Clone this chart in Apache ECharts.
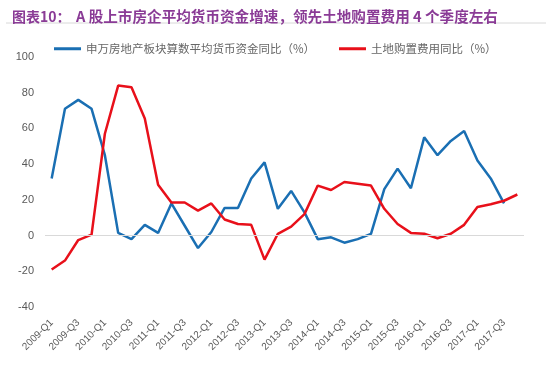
<!DOCTYPE html>
<html><head><meta charset="utf-8">
<script src="https://cdn.jsdelivr.net/npm/echarts@6/dist/echarts.min.js"></script>
<style>html,body{margin:0;padding:0;background:#fff}#c{width:550px;height:372px}</style>
</head><body><div id="c"></div>
<script>
const years = [2009,2010,2011,2012,2013,2014,2015,2016,2017];
const categories = [];
years.forEach(y => ['Q1','Q2','Q3','Q4'].forEach(q => categories.push(y + '-' + q)));
const blueName = '申万房地产板块算数平均货币资金同比（%）';
const redName = '土地购置费用同比（%）';
const blueValues = [32, 71, 76, 71, 45, 1.5, -2, 6, 1.5, 18, 5.5, -7, 2, 15.5, 15.5, 32, 41, 15, 25, 13, -2, -1, -4, -2, 1, 26, 37.5, 26.5, 55, 45, 53, 58.5, 42, 32, 18];
const redValues = [-19, -14, -2.5, 0.5, 57, 84, 83, 65.5, 28.5, 18.5, 18.5, 14, 18, 9, 6.5, 6, -13.5, 1, 5, 12, 28, 25.5, 30, 29, 28, 15, 6.5, 1.5, 1, -1.5, 1, 6, 16, 17.5, 19.5, 23];
const yTicks = {min: -40, max: 100, interval: 20};
const titleHead = '图表10：';
const titleBody = 'A 股上市房企平均货币资金增速，领先土地购置费用 4 个季度左右';

const chart = echarts.init(document.getElementById('c'), null, {renderer: 'canvas'});
chart.setOption({
  animation: false,
  title: {
    text: '{h|' + titleHead + '}{b|' + titleBody + '}', left: 7, top: 4,
    textStyle: {
      rich: {
        h: {color: '#8A3B96', fontSize: 14, fontWeight: 'bold', fontFamily: 'Noto Sans CJK SC', width: 64},
        b: {color: '#8A3B96', fontSize: 14.6, fontWeight: 'bold', fontFamily: 'Noto Sans CJK SC'}
      }
    }
  },
  graphic: [{type: 'line', shape: {x1: 6, y1: 23, x2: 546, y2: 23}, style: {stroke: '#d8d8d8', lineWidth: 1}}],
  legend: [
    {top: 38, left: 49, itemWidth: 27, itemHeight: 3, icon: 'rect',
     textStyle: {color: '#666', fontSize: 11.5, fontFamily: 'Noto Sans CJK SC'}, data: [blueName]},
    {top: 38, left: 334, itemWidth: 27, itemHeight: 3, icon: 'rect',
     textStyle: {color: '#666', fontSize: 11.5, fontFamily: 'Noto Sans CJK SC'}, data: [redName]}
  ],
  grid: {left: 45, right: 26, top: 57, bottom: 65, containLabel: false},
  xAxis: {
    type: 'category', data: categories, boundaryGap: true,
    axisLine: {show: false, onZero: false},
    axisTick: {show: false},
    axisLabel: {interval: 1, rotate: 45, color: '#595959', fontSize: 10, margin: 14, fontFamily: 'Liberation Sans'}
  },
  yAxis: {
    type: 'value', min: yTicks.min, max: yTicks.max, interval: yTicks.interval,
    axisLine: {show: false}, axisTick: {show: false}, splitLine: {show: false},
    axisLabel: {color: '#595959', fontSize: 11, margin: 11, fontFamily: 'Liberation Sans'}
  },
  series: [
    {name: blueName, type: 'line', data: blueValues, symbol: 'none',
     lineStyle: {color: '#1a6fb3', width: 2.5}, itemStyle: {color: '#1a6fb3'},
     markLine: {silent: true, symbol: 'none', label: {show: false},
       lineStyle: {color: '#d9d9d9', width: 1, type: 'solid'}, data: [{yAxis: 0}]}},
    {name: redName, type: 'line', data: redValues, symbol: 'none',
     lineStyle: {color: '#e8101a', width: 2.5}, itemStyle: {color: '#e8101a'}}
  ]
});
</script></body></html>
